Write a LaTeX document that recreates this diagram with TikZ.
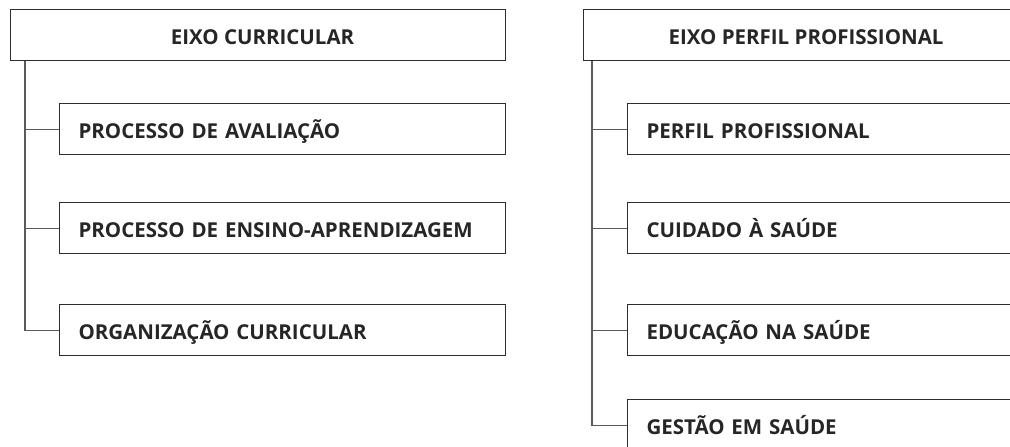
\documentclass[tikz,border=0pt]{standalone}
\usepackage{fontspec}
\setmainfont{Open Sans}
\definecolor{boxc}{HTML}{2E2E2E}
\definecolor{connc}{HTML}{5A5A5A}
\begin{document}
\begin{tikzpicture}[x=1pt,y=-1pt,
  box/.style={draw=boxc, line width=1.1pt, rectangle, minimum height=51pt,
    inner ysep=0pt, font=\fontsize{20.5}{20.5}\selectfont\bfseries,
    text=black!85, text height=18.5pt, text depth=0pt},
  head/.style={box, anchor=north west, inner xsep=0pt, align=center},
  itemL/.style={box, anchor=north west, inner xsep=19pt, text width=408pt, align=left},
  itemR/.style={box, anchor=north west, inner xsep=19pt, text width=365pt, align=left},
  conn/.style={draw=connc, line width=1.1pt}]
\clip (0,0) rectangle (1010,447);
\fill[white] (0,0) rectangle (1010,447);
% left column
\node[head, minimum width=495pt] (h1) at (10,9) {\hspace*{9pt}EIXO CURRICULAR};
\node[itemL] (l1) at (59,103) {PROCESSO DE AVALIAÇÃO};
\node[itemL] (l2) at (59,202) {PROCESSO DE ENSINO-APRENDIZAGEM};
\node[itemL] (l3) at (59,304) {ORGANIZAÇÃO CURRICULAR};
\coordinate (t1) at ([xshift=15pt]h1.south west);
\draw[conn] (t1) |- (l3.west);
\draw[conn] (t1 |- l1.west) -- (l1.west);
\draw[conn] (t1 |- l2.west) -- (l2.west);
% right column
\node[head, minimum width=445pt] (h2) at (583,9) {EIXO PERFIL PROFISSIONAL};
\node[itemR] (r1) at (627,103) {PERFIL PROFISSIONAL};
\node[itemR] (r2) at (627,202) {CUIDADO À SAÚDE};
\node[itemR] (r3) at (627,304) {EDUCAÇÃO NA SAÚDE};
\node[itemR] (r4) at (627,399) {GESTÃO EM SAÚDE};
\coordinate (t2) at ([xshift=9pt]h2.south west);
\draw[conn] (t2) |- (r4.west);
\draw[conn] (t2 |- r1.west) -- (r1.west);
\draw[conn] (t2 |- r2.west) -- (r2.west);
\draw[conn] (t2 |- r3.west) -- (r3.west);
\end{tikzpicture}
\end{document}
